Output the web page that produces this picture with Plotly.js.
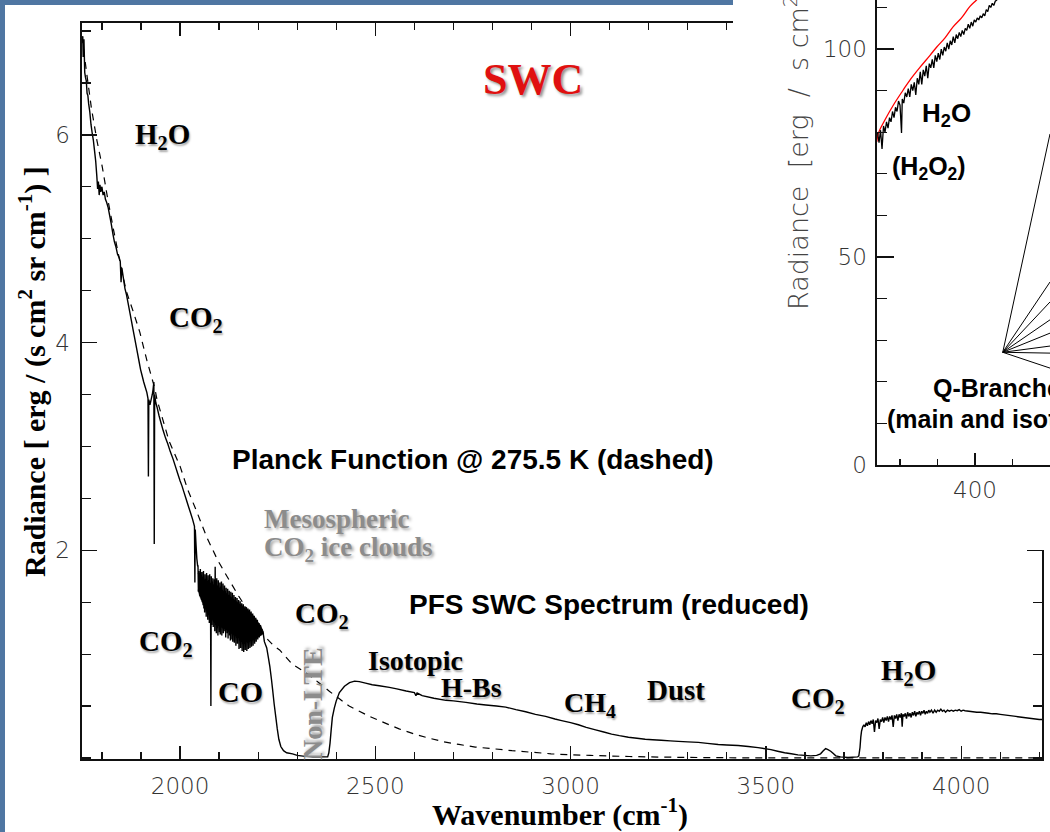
<!DOCTYPE html>
<html><head><meta charset="utf-8">
<script src="https://cdn.plot.ly/plotly-3.0.1.min.js"></script>
<style>html,body{margin:0;padding:0;background:#4f76a2;} #chart{width:1050px;height:832px;}</style>
</head><body><div id="chart"></div>
<script>
// ---- Main SWC spectrum (wavenumber cm-1, radiance) ----
const swcWn = [
1751,1752,1754,1756,1758,1760,1762,1764,1766,1769,1772,1775,1778,1781,1784,1787,1789,1791,1793,1795,1797,1800,1803,1806,1809,1812,1816,1820,1824,1828,1832,1836,1840,1844,1847,1849,1851,1855,1859,1863,1867,1871,1875,1879,1883,1887,1891,1895,1899,1903,1907,1911,1915,1918,1919,1920,1923,1926,1929,1931,1933,1934,1935,1938,1941,1946,1951,1957,1963,1969,1975,1982,1988,1994,2000,2005,2010,2015,2020,2026,2032,2037,2038,2039,2041,2043,2045,
2046,2047,2048,2049,2050,2051,2052,2053,2054,2055,
2056,2057,2058,2059,2060,2061,2062,2063,2064,2065,
2066,2067,2068,2069,2070,2071,2072,2073,2074,2075,
2076,2077,2078,2079,2080,2081,2082,2083,2084,2085,
2086,2087,2088,2089,2090,2091,2092,2093,2094,2095,
2096,2097,2098,2099,2100,2101,2102,2103,2104,2105,
2106,2107,2108,2109,2110,2111,2112,2113,2114,2115,
2116,2117,2118,2119,2120,2121,2122,2123,2124,2125,
2126,2127,2128,2129,2130,2131,2132,2133,2134,2135,
2136,2137,2138,2139,2140,2141,2142,2143,2144,2145,
2146,2147,2148,2149,2150,2151,2152,2153,2154,2155,
2156,2157,2158,2159,2160,2161,2162,2163,2164,2165,
2166,2167,2168,2169,2170,2171,2172,2173,2174,2175,
2176,2177,2178,2179,2180,2181,2182,2183,2184,2185,
2186,2187,2188,2189,2190,2191,2192,2193,2194,2195,
2196,2197,2198,2199,2200,2201,2202,2203,2204,2205,
2206,2207,2208,2209,2210,2211,2212,2213,
2216,2222,2226,2230,2234,2237,2241,2245,2249,2253,2258,2265,2273,2288,2300,2320,2340,2360,2378,2381,2384,2387,2390,2395,2400,2408,2421,2434,2447,2459,2475,2492,2510,2536,2555,2579,2600,2604,2607,2620,2650,2681,2700,2732,2760,2783,2810,2834,2860,2885,2910,2936,2960,2977,3000,3020,3040,3064,3085,3105,3125,3148,3170,3191,3210,3232,3255,3276,3300,3327,3350,3378,3400,3429,3455,3480,3513,3530,3548,3565,3582,3600,3615,3630,3640,3647,3653,3659,3666,3672,3679,3691,3710,3735,
3738,3741,3743,3745,3748,3751,3754,3757,3760,3763,3766,3769,3772,3775,3778,3781,3784,3787,3790,3793,3796,3799,3802,3805,3808,3811,3814,3817,3820,3823,3826,3829,3832,3835,3838,3841,3844,3847,3849,3851,3854,3857,3860,3863,3866,3869,3872,3875,3878,3881,3884,3887,3890,3893,3896,3899,3902,3905,3908,3911,3914,3917,3920,3924,3928,3932,3936,3940,3944,3948,3952,3956,3960,3965,3970,3975,3980,3985,3990,3995,4000,4005,4010,4020,4030,4040,4050,4060,4070,4080,4090,4100,4110,4120,4130,4140,4150,4160,4170,4180,4190,4200,4207];
const swcRad = [
6.95,6.75,6.92,6.6,6.55,6.52,6.4,6.38,6.3,6.22,6.1,6.02,5.95,5.85,5.75,5.6,5.48,5.55,5.42,5.52,5.45,5.5,5.42,5.45,5.38,5.35,5.3,5.22,5.14,5.05,4.97,4.92,4.85,4.82,4.78,4.58,4.72,4.62,4.52,4.46,4.38,4.3,4.22,4.14,4.06,3.98,3.9,3.82,3.74,3.68,3.62,3.57,3.52,3.46,2.71,3.45,3.4,3.45,3.5,3.55,3.62,2.06,3.5,3.42,3.38,3.3,3.23,3.15,3.08,3.02,2.95,2.88,2.81,2.74,2.67,2.62,2.56,2.5,2.44,2.37,2.3,2.23,1.69,2.2,2.05,1.92,1.85,
1.85,1.60,1.80,1.62,1.78,1.56,1.82,1.58,1.76,1.52,
1.79,1.50,1.74,1.47,1.80,1.44,1.70,1.40,1.77,1.46,
1.72,1.36,1.78,1.42,1.69,1.33,1.76,1.38,1.71,1.30,
1.77,1.36,1.68,0.50,1.75,1.28,1.70,1.34,1.73,1.26,
1.66,1.32,1.72,1.22,1.84,1.28,1.68,1.20,1.73,1.25,
1.66,1.18,1.71,1.27,1.64,1.21,1.69,1.19,1.65,1.28,
1.70,1.18,1.62,1.25,1.68,1.20,1.60,1.27,1.66,1.22,
1.61,1.16,1.64,1.26,1.58,1.20,1.63,1.15,1.57,1.24,
1.61,1.18,1.55,1.13,1.60,1.22,1.54,1.14,1.59,1.12,
1.53,1.20,1.57,1.11,1.52,1.18,1.55,1.08,1.50,1.16,
1.54,1.10,1.49,1.17,1.52,1.05,1.47,1.14,1.51,1.06,
1.46,1.12,1.49,1.03,1.45,1.13,1.48,1.02,1.44,1.10,
1.46,1.04,1.42,1.12,1.45,1.03,1.41,1.11,1.44,1.05,
1.40,1.13,1.43,1.06,1.39,1.14,1.41,1.07,1.37,1.15,
1.39,1.08,1.35,1.16,1.37,1.10,1.33,1.17,1.35,1.12,
1.31,1.18,1.33,1.14,1.29,1.19,1.30,1.16,1.27,1.20,
1.28,1.18,1.25,1.20,1.24,1.19,1.22,1.20,
1.12,1.06,0.97,0.88,0.76,0.66,0.52,0.40,0.28,0.18,0.11,0.07,0.05,0.04,0.025,0.015,0.01,0.01,0.01,0.05,0.14,0.27,0.39,0.48,0.55,0.63,0.69,0.725,0.74,0.735,0.72,0.705,0.695,0.68,0.665,0.645,0.63,0.60,0.625,0.60,0.575,0.555,0.55,0.535,0.52,0.51,0.50,0.49,0.465,0.445,0.42,0.40,0.375,0.36,0.34,0.32,0.295,0.27,0.25,0.23,0.215,0.20,0.19,0.18,0.175,0.17,0.165,0.16,0.155,0.15,0.14,0.13,0.125,0.12,0.11,0.10,0.08,0.065,0.05,0.04,0.03,0.025,0.02,0.025,0.04,0.07,0.09,0.08,0.065,0.045,0.02,0.01,0.005,0.01,
0.02,0.10,0.20,0.26,0.30,0.32,0.30,0.34,0.31,0.35,0.32,0.36,0.33,0.37,0.25,0.36,0.34,0.38,0.28,0.37,0.35,0.39,0.34,0.39,0.36,0.40,0.35,0.40,0.37,0.41,0.30,0.41,0.38,0.42,0.36,0.42,0.39,0.43,0.30,0.42,0.40,0.43,0.38,0.44,0.40,0.43,0.39,0.44,0.41,0.45,0.40,0.44,0.42,0.45,0.41,0.45,0.43,0.46,0.42,0.45,0.43,0.46,0.44,0.46,0.43,0.46,0.44,0.46,0.45,0.47,0.45,0.46,0.44,0.46,0.45,0.46,0.45,0.46,0.455,0.465,0.45,0.46,0.455,0.45,0.445,0.44,0.44,0.435,0.43,0.425,0.425,0.42,0.415,0.41,0.405,0.40,0.395,0.39,0.385,0.38,0.375,0.37,0.37];

// ---- dense CO2/CO absorption band: solid black core between envelopes ----
const bandWn  = [2046,2050,2060,2070,2080,2090,2100,2110,2120,2130,2140,2150,2160,2170,2180,2190,2200,2207,2213];
const bandTop = [1.78,1.74,1.72,1.70,1.68,1.66,1.64,1.61,1.58,1.55,1.52,1.49,1.46,1.43,1.40,1.36,1.31,1.27,1.22];
const bandBot = [1.62,1.56,1.48,1.40,1.34,1.30,1.27,1.25,1.23,1.20,1.18,1.16,1.13,1.12,1.13,1.14,1.16,1.18,1.20];

// ---- Planck function @ 275.5 K (dashed) ----
const planckWn = [1749,1760,1773,1787,1801,1815,1830,1846,1862,1880,1897,1915,1936,1941,1972,2000,2020,2043,2069,2097,2120,2150,2180,2200,2222,2240,2255,2288,2306,2330,2357,2383,2408,2433,2459,2485,2510,2535,2561,2600,2638,2676,2714,2756,2798,2850,2901,2950,3003,3050,3105,3150,3200,3260,3330,3400,3500,3700,4207];
const planckRad = [6.95,6.62,6.26,5.95,5.69,5.38,5.08,4.78,4.50,4.30,4.10,3.83,3.55,3.45,3.05,2.81,2.58,2.37,2.12,1.90,1.75,1.56,1.38,1.27,1.15,1.08,1.04,0.90,0.86,0.80,0.72,0.64,0.57,0.50,0.45,0.40,0.36,0.32,0.28,0.23,0.19,0.155,0.13,0.105,0.09,0.07,0.055,0.04,0.03,0.025,0.018,0.014,0.01,0.007,0.004,0.002,0.001,0,0];

// ---- Inset: LWC spectrum ----
const lwcWn = [270,272,274,276,278,280,282,284,286,288,290,292,294,296,298,300,302,303,305,307,309,311,313,315,317,319,321,323,325,327,329,331,333,335,337,339,341,343,345,347,349,351,353,355,357,359,361,363,365,367,369,371,373,375,377,379,381,383,385,387,389,391,393,395,397,399,401,403,405,407,409,411,413,415,417,419,421,423,425,427,429,431,435];
const lwcRad = [80,77.5,80.5,76,81.5,80,82.5,81,83.5,82.5,85,83.5,86,85,87.5,86.5,79.8,88,87,89.5,88.5,90.5,88.5,91.5,90,92,89,93,91.5,94.5,91.5,95,93.5,96,93,96.5,95.5,97.5,95.5,98.5,97,99,97.5,100,98.5,100.5,99.5,101.5,100,102,101,103,101.5,103.5,102.5,104,103,104.5,103.5,105,104.5,106,105,106.5,105.5,107,106.5,107.5,107,108,107.5,108.5,108,109.5,109,110.5,110,111,110.5,111.5,111.8,112.5,113.5];
const lwcPlanckWn = [269,271,280,291,304,313,327,340,349,360,371,382,393,402,410];
const lwcPlanckRad = [77.7,79.7,83,86.5,90.1,92.5,95.7,98.5,100.5,102.7,105.4,107.5,110.2,111.8,113.5];
// Q-branch pointer lines (segments separated by null)
const qbWn  = [437,500,null,437,500,null,437,500,null,437,500,null,437,500,null,437,500,null,437,500,null,437,500];
const qbRad = [27.1,79.6,null,27.1,44.0,null,27.1,39.2,null,27.1,34.9,null,27.1,31.7,null,27.1,28.6,null,27.1,26.9,null,27.1,23.3];

// ---- tick labels ----
const mainYTicks = [2,4,6];
const mainYTickText = ['2','4','6'];
const insetXTicks = [400];
const insetYTicks = [0,50,100];

// pixel -> paper helpers (plot area: x 82..1050, y 0..759)
const PL=82, PW=968, PH=759;
const px = v => (v-PL)/PW;
const py = v => (PH-v)/PH;

const serif = "Liberation Serif";
const sans = "Liberation Sans";
const tickFont = {family:"DejaVu Sans", size:23, color:'#333', weight:300};
const shadow = "1px 2px 2px rgba(0,0,0,0.35)";

const traces = [
  {x:planckWn, y:planckRad, type:'scatter', mode:'lines', xaxis:'x', yaxis:'y',
   line:{color:'#000', width:1.2, dash:'7px,6px', simplify:false}, hoverinfo:'skip', showlegend:false},
  {x:bandWn.concat(bandWn.slice().reverse()), y:bandTop.concat(bandBot.slice().reverse()),
   type:'scatter', mode:'lines', fill:'toself', fillcolor:'#000', xaxis:'x', yaxis:'y',
   line:{color:'#000', width:0.5}, hoverinfo:'skip', showlegend:false},
  {x:swcWn, y:swcRad, type:'scatter', mode:'lines', xaxis:'x', yaxis:'y',
   line:{color:'#000', width:1.4, simplify:false}, hoverinfo:'skip', showlegend:false},
  {x:[], y:[], type:'scatter', mode:'lines', xaxis:'x2', yaxis:'y2', hoverinfo:'skip', showlegend:false},
  {x:lwcPlanckWn, y:lwcPlanckRad, type:'scatter', mode:'lines', xaxis:'x3', yaxis:'y3',
   line:{color:'#ff0000', width:1.3, shape:'spline'}, hoverinfo:'skip', showlegend:false},
  {x:lwcWn, y:lwcRad, type:'scatter', mode:'lines', xaxis:'x3', yaxis:'y3',
   line:{color:'#000', width:1.3, simplify:false}, hoverinfo:'skip', showlegend:false},
  {x:qbWn, y:qbRad, type:'scatter', mode:'lines', xaxis:'x3', yaxis:'y3',
   line:{color:'#000', width:1}, connectgaps:false, hoverinfo:'skip', showlegend:false}
];

function ann(text, x, y, size, opts){
  return Object.assign({text:text, x:px(x), y:py(y), xref:'paper', yref:'paper', showarrow:false,
    xanchor:'center', yanchor:'middle',
    font:{family:serif, size:size, color:'#000', weight:700, shadow:shadow}}, opts||{});
}
const grey = '#8c8c8c';
const greyFont = s => ({family:serif, size:s, color:grey, weight:700, shadow:'2px 2px 3px rgba(0,0,0,0.35)'});
const sansFont = s => ({family:sans, size:s, color:'#000', weight:700});
const annotations = [
  ann('SWC', 533, 80, 44, {font:{family:serif,size:44,color:'#e01010',weight:700,shadow:'2px 2px 3px rgba(0,0,0,0.45)'}}),
  ann('H<sub>2</sub>O', 162, 136, 29),
  ann('CO<sub>2</sub>', 196, 319, 29),
  ann('Planck Function @ 275.5 K (dashed)', 473, 459, 28, {font:sansFont(28)}),
  ann('Mesospheric', 262, 519, 27, {xanchor:'left', font:greyFont(27)}),
  ann('CO<sub>2</sub> ice clouds', 262, 549, 27, {xanchor:'left', font:greyFont(27)}),
  ann('PFS SWC Spectrum (reduced)', 609, 604, 28, {font:sansFont(28)}),
  ann('CO<sub>2</sub>', 166, 643, 29),
  ann('CO', 240, 691, 30),
  ann('CO<sub>2</sub>', 322, 615, 29),
  ann('Non-LTE', 312, 704, 28, {textangle:-90, font:greyFont(28)}),
  ann('Isotopic', 415, 660, 28),
  ann('H-Bs', 471, 687, 28),
  ann('CH<sub>4</sub>', 590, 704, 28),
  ann('Dust', 676, 690, 29),
  ann('CO<sub>2</sub>', 818, 700, 29),
  ann('H<sub>2</sub>O', 908, 672, 29),
  ann('Wavenumber (cm<sup>-1</sup>)', 560, 812, 30, {font:{family:serif,size:30,color:'#000',weight:700}}),
  ann('Radiance [ erg / (s cm<sup>2</sup> sr cm<sup>-1</sup>) ]', 33, 372, 30, {textangle:-90, font:{family:serif,size:30,color:'#000',weight:700}}),
  // inset
  ann('H<sub>2</sub>O', 946, 114, 26, {font:sansFont(26)}),
  ann('(H<sub>2</sub>O<sub>2</sub>)', 929, 168, 25, {font:sansFont(25)}),
  ann('Q-Branches', 931, 388, 25, {xanchor:'left', font:sansFont(25)}),
  ann('(main and isotopic)', 885, 419, 25, {xanchor:'left', font:sansFont(25)}),
  ann('Radiance\u00a0\u00a0[erg\u00a0\u00a0/\u00a0\u00a0s\u00a0cm<sup>2</sup>\u00a0sr\u00a0\u00a0cm<sup>-1</sup>]', 797, 312, 27,
      {textangle:-90, yanchor:'bottom', font:{family:"DejaVu Sans",size:27,color:'#444',weight:300}})
];

const axisBase = {showgrid:false, zeroline:false, showline:true, linecolor:'#111', linewidth:1.6,
  ticks:'inside', tickcolor:'#111', tickwidth:1.3};

const layout = {
  width:1050, height:832,
  margin:{l:82, r:0, t:0, b:73, pad:0},
  paper_bgcolor:'#4f76a2', plot_bgcolor:'#ffffff',
  showlegend:false,
  xaxis: Object.assign({}, axisBase, {domain:[0, px(1042)], range:[1749, 4207], anchor:'y',
    tick0:0, dtick:500, ticklen:13, mirror:'ticks', tickfont:tickFont, ticklabelstandoff:6,
    minor:{dtick:100, tick0:0, ticklen:7, ticks:'inside', tickcolor:'#111', tickwidth:1.2}}),
  yaxis: Object.assign({}, axisBase, {domain:[py(759), py(23)], range:[-0.01, 7.077], anchor:'x',
    tickmode:'array', tickvals:mainYTicks, ticktext:mainYTickText, ticklen:15, mirror:'ticks',
    tickfont:tickFont, ticklabelstandoff:6,
    minor:{dtick:0.5, tick0:0, ticklen:9, ticks:'inside', tickcolor:'#111', tickwidth:1.2}}),
  xaxis2: {domain:[px(733), 1], range:[0,1], anchor:'y2', visible:true, showline:false, showgrid:false,
    zeroline:false, ticks:'', showticklabels:false},
  yaxis2: {domain:[py(550), 1], range:[0,1], anchor:'x2', visible:true, showline:false, showgrid:false,
    zeroline:false, ticks:'', showticklabels:false},
  xaxis3: Object.assign({}, axisBase, {domain:[px(877), 1], range:[269.3, 500], anchor:'y3',
    tickmode:'array', tickvals:insetXTicks, ticklen:12, tickfont:tickFont, ticklabelstandoff:4,
    minor:{dtick:50, tick0:0, ticklen:6, ticks:'inside', tickcolor:'#111', tickwidth:1.2}}),
  yaxis3: Object.assign({}, axisBase, {domain:[py(465), 1], range:[0, 111.8], anchor:'x3',
    tickmode:'array', tickvals:insetYTicks, ticklen:17, tickfont:tickFont, ticklabelstandoff:4,
    minor:{dtick:10, tick0:0, ticklen:10, ticks:'inside', tickcolor:'#111', tickwidth:1.2}}),
  shapes:[
    {type:'rect', xref:'paper', yref:'paper', x0:px(5), x1:px(1050), y0:py(832), y1:py(5),
     fillcolor:'#ffffff', line:{width:0}, layer:'below'}
  ],
  annotations: annotations
};

Plotly.newPlot('chart', traces, layout, {displayModeBar:false, staticPlot:true});
</script>
</body></html>
